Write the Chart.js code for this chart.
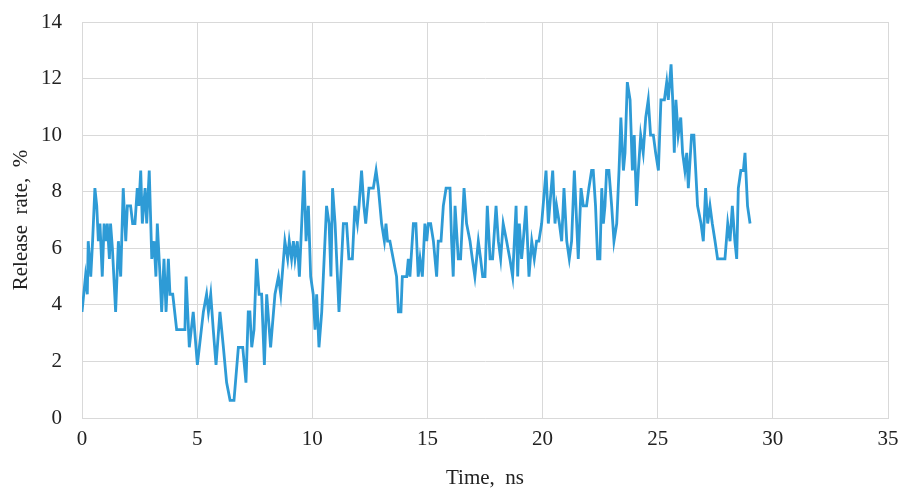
<!DOCTYPE html>
<html>
<head>
<meta charset="utf-8">
<script src="https://cdn.jsdelivr.net/npm/chart.js@4/dist/chart.umd.min.js"></script>
<style>
  html, body { margin: 0; padding: 0; background: #fff; }
  #wrap { width: 901px; height: 491px; }
</style>
</head>
<body>
<div id="wrap"><canvas id="myChart" width="901" height="491"></canvas></div>
<script>
// time (ns) and release rate (%)
const times = [
  0.00, 0.15, 0.23, 0.27, 0.38, 0.46, 0.56, 0.64, 0.71, 0.78, 0.88, 0.96, 1.04, 1.10, 1.19, 1.24, 1.32, 1.46, 1.58, 1.68,
  1.79, 1.90, 1.97, 2.11, 2.20, 2.30, 2.40, 2.47, 2.55, 2.62, 2.74, 2.81, 2.92, 3.03, 3.13, 3.21, 3.27, 3.39, 3.46, 3.56,
  3.65, 3.75, 3.82, 3.94, 4.11, 4.47, 4.52, 4.66, 4.83, 5.01, 5.27, 5.41, 5.49, 5.59, 5.70, 5.82, 5.99, 6.14, 6.28, 6.43,
  6.60, 6.79, 6.98, 7.12, 7.22, 7.29, 7.37, 7.47, 7.58, 7.69, 7.80, 7.92, 8.02, 8.19, 8.38, 8.53, 8.63, 8.81, 8.93, 9.00,
  9.10, 9.18, 9.25, 9.35, 9.44, 9.64, 9.73, 9.83, 9.93, 10.04, 10.12, 10.19, 10.29, 10.41, 10.48, 10.62, 10.73, 10.81, 10.88, 10.99,
  11.16, 11.35, 11.49, 11.59, 11.74, 11.85, 11.96, 12.03, 12.14, 12.24, 12.32, 12.46, 12.65, 12.77, 12.87, 13.01, 13.13, 13.20, 13.27, 13.37,
  13.66, 13.74, 13.85, 13.91, 14.10, 14.17, 14.24, 14.39, 14.50, 14.60, 14.68, 14.78, 14.89, 14.97, 15.04, 15.14, 15.26, 15.40, 15.47, 15.59,
  15.69, 15.81, 15.98, 16.05, 16.12, 16.20, 16.34, 16.44, 16.59, 16.70, 16.85, 16.95, 17.06, 17.21, 17.31, 17.40, 17.50, 17.60, 17.72, 17.83,
  17.98, 18.08, 18.18, 18.29, 18.44, 18.58, 18.70, 18.85, 18.92, 18.99, 19.09, 19.16, 19.28, 19.41, 19.53, 19.64, 19.74, 19.84, 19.96, 20.15,
  20.25, 20.44, 20.54, 20.61, 20.73, 20.83, 20.93, 21.05, 21.16, 21.26, 21.38, 21.55, 21.67, 21.77, 21.91, 22.01, 22.13, 22.20, 22.30, 22.39,
  22.49, 22.57, 22.64, 22.71, 22.78, 22.88, 23.00, 23.10, 23.22, 23.32, 23.40, 23.51, 23.58, 23.68, 23.80, 23.90, 23.98, 24.08, 24.16, 24.26,
  24.37, 24.48, 24.59, 24.69, 24.81, 24.91, 25.03, 25.14, 25.29, 25.39, 25.46, 25.58, 25.65, 25.72, 25.79, 25.89, 26.00, 26.08, 26.18, 26.26,
  26.33, 26.47, 26.57, 26.65, 26.73, 26.88, 26.98, 27.08, 27.17, 27.27, 27.37, 27.49, 27.60, 27.78, 27.92, 28.04, 28.14, 28.24, 28.35, 28.43,
  28.50, 28.61, 28.72, 28.79, 28.90, 29.01
];
const rates = [
  3.75, 5.0, 4.375, 6.25, 5.0, 6.25, 8.125, 7.5, 6.25, 6.875, 5.0, 6.875, 6.25, 6.875, 5.625, 6.875, 6.0, 3.75, 6.25, 5.0,
  8.125, 6.25, 7.5, 7.5, 6.875, 6.875, 8.125, 7.5, 8.75, 6.875, 8.125, 6.875, 8.75, 5.625, 6.25, 5.0, 6.875, 5.0, 3.75, 5.625,
  3.75, 5.625, 4.375, 4.375, 3.125, 3.125, 5.0, 2.5, 3.75, 1.875, 3.75, 4.375, 3.75, 4.375, 3.125, 1.875, 3.75, 2.5, 1.25, 0.625,
  0.625, 2.5, 2.5, 1.25, 3.75, 3.75, 2.5, 3.125, 5.625, 4.375, 4.375, 1.875, 4.375, 2.5, 4.375, 5.0, 4.375, 6.25, 5.625, 6.25,
  5.625, 6.25, 5.625, 6.25, 5.0, 8.75, 6.25, 7.5, 5.0, 4.375, 3.125, 4.375, 2.5, 3.75, 5.0, 7.5, 6.875, 5.0, 8.125, 6.875,
  3.75, 6.875, 6.875, 5.625, 5.625, 7.5, 6.875, 7.5, 8.75, 7.5, 6.875, 8.125, 8.125, 8.75, 8.125, 6.875, 6.25, 6.875, 6.25, 6.25,
  5.0, 3.75, 3.75, 5.0, 5.0, 5.625, 5.0, 6.875, 6.875, 5.0, 5.625, 5.0, 6.875, 6.25, 6.875, 6.875, 6.25, 5.0, 6.25, 6.25,
  7.5, 8.125, 8.125, 6.25, 5.0, 7.5, 5.625, 5.625, 8.125, 6.875, 6.25, 5.625, 5.0, 6.25, 5.625, 5.0, 5.0, 7.5, 5.625, 5.625,
  7.5, 6.25, 5.625, 6.875, 6.25, 5.625, 5.0, 7.5, 5.0, 6.875, 5.625, 6.25, 7.5, 5.0, 6.25, 5.625, 6.25, 6.25, 6.875, 8.75,
  6.875, 8.75, 6.875, 7.5, 6.875, 6.25, 8.125, 6.25, 5.625, 6.25, 8.75, 5.625, 8.125, 7.5, 7.5, 8.125, 8.75, 8.75, 7.5, 5.625,
  5.625, 8.125, 6.875, 7.5, 8.75, 8.75, 7.5, 6.25, 6.875, 8.75, 10.625, 8.75, 9.375, 11.875, 11.25, 8.75, 10.0, 7.5, 8.75, 10.0,
  9.375, 10.625, 11.25, 10.0, 10.0, 9.375, 8.75, 11.25, 11.25, 11.875, 11.25, 12.5, 11.25, 9.375, 11.25, 10.0, 10.625, 9.375, 8.75, 9.375,
  8.125, 10.0, 10.0, 8.75, 7.5, 6.875, 6.25, 8.125, 6.875, 7.5, 6.875, 6.25, 5.625, 5.625, 5.625, 6.875, 6.25, 7.5, 6.25, 5.625,
  8.125, 8.75, 8.75, 9.375, 7.5, 6.875
];
const xTicks = [0, 5, 10, 15, 20, 25, 30, 35];
const yTicks = [0, 2, 4, 6, 8, 10, 12, 14];

const points = times.map((t, i) => ({ x: t, y: rates[i] }));
const gridColor = '#d9d9d9';
const textColor = '#222';
const serif = "'Liberation Serif', 'Times New Roman', serif";

const ctx = document.getElementById('myChart').getContext('2d');
const myChart = new Chart(ctx, {
    type: 'line',
    data: {
        datasets: [{
            label: 'Release rate',
            data: points,
            borderColor: '#2e9bd6',
            borderWidth: 2.8,
            pointRadius: 0,
            tension: 0,
            fill: false
        }]
    },
    options: {
        responsive: false,
        animation: false,
        layout: { padding: { top: 22, right: 13, left: 0, bottom: 0 } },
        plugins: {
            legend: { display: false },
            tooltip: { enabled: false }
        },
        scales: {
            x: {
                type: 'linear',
                min: xTicks[0],
                max: xTicks[xTicks.length - 1],
                afterBuildTicks: (scale) => { scale.ticks = xTicks.map(v => ({ value: v })); },
                afterFit: (scale) => {
                    scale.height = 73;
                    scale.paddingLeft = 0;
                    scale.paddingRight = 0;
                },
                grid: { color: gridColor, drawTicks: false },
                border: { color: gridColor },
                ticks: { padding: 9, color: textColor, font: { family: serif, size: 21 } },
                title: {
                    display: true,
                    text: 'Time,  ns',
                    color: textColor,
                    font: { family: serif, size: 21 },
                    padding: { top: 4, bottom: 0 }
                }
            },
            y: {
                type: 'linear',
                min: yTicks[0],
                max: yTicks[yTicks.length - 1],
                afterBuildTicks: (scale) => { scale.ticks = yTicks.map(v => ({ value: v })); },
                afterFit: (scale) => {
                    scale.width = 82;
                    scale.paddingTop = 0;
                    scale.paddingBottom = 0;
                },
                grid: { color: gridColor, drawTicks: false },
                border: { color: gridColor },
                ticks: { padding: 20, color: textColor, font: { family: serif, size: 21 } },
                title: {
                    display: true,
                    text: 'Release  rate,  %',
                    color: textColor,
                    font: { family: serif, size: 21 },
                    padding: { top: 9, bottom: 4 }
                }
            }
        }
    }
});
</script>
</body>
</html>
